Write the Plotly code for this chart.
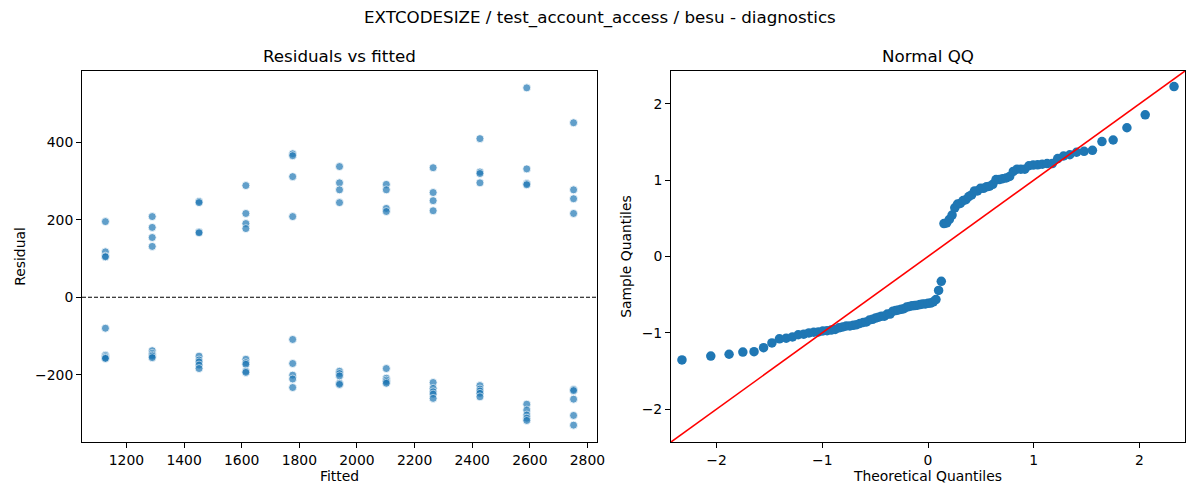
import statistics
import numpy as np
import plotly.graph_objects as go
from plotly.subplots import make_subplots

# fitted value of each group (x columns of the left panel)
FITTED_LEVELS = [1127, 1289.5, 1452, 1614.5, 1777, 1939.5, 2102, 2264.5, 2427, 2589.5, 2752]

# residuals, one list per fitted level
RESIDUALS_BY_LEVEL = [
    [195, 117, 106, 104, -80, -150, -154, -157, -158],
    [208, 180, 154, 131, -138, -145, -149, -152, -156],
    [247, 244, 168, 166, -152, -162, -167, -175, -184],
    [288, 216, 190, 177, -160, -169, -173, -191, -194],
    [370, 365, 311, 208, -109, -171, -201, -211, -233],
    [337, 295, 277, 244, -191, -197, -203, -222, -225],
    [291, 277, 229, 221, -184, -209, -214, -218, -222],
    [334, 270, 249, 223, -220, -235, -244, -250, -261],
    [409, 323, 319, 295, -228, -237, -242, -248, -257],
    [540, 331, 293, 290, -276, -291, -304, -312, -318],
    [450, 277, 254, 216, -238, -241, -263, -305, -330],
]

TITLE = "EXTCODESIZE / test_account_access / besu - diagnostics"
LEFT_TITLE = "Residuals vs fitted"
RIGHT_TITLE = "Normal QQ"
QQ_LIMITS = [-2.43, 2.43]

fitted = []
resid = []
for level, vals in zip(FITTED_LEVELS, RESIDUALS_BY_LEVEL):
    fitted += [level] * len(vals)
    resid += vals
resid = np.array(resid, dtype=float)

# normal QQ: standardised sorted residuals vs normal plotting positions
n = len(resid)
sample_q = np.sort((resid - resid.mean()) / resid.std())
nd = statistics.NormalDist()
theo_q = [nd.inv_cdf(i / (n + 1)) for i in range(1, n + 1)]

FONT = "DejaVu Sans"
BLUE = "#1f77b4"

# the page body has an 8px margin, so the figure is 8px smaller than the window
W, H, OFF = 1192, 492, 8


def px_x(p):
    return (p - OFF) / W


def px_y(p):
    return 1 - (p - OFF) / H


fig = make_subplots(rows=1, cols=2)

fig.add_trace(go.Scatter(
    x=fitted, y=resid, mode="markers",
    marker=dict(color=BLUE, size=8, opacity=0.7, line=dict(color="white", width=0.8)),
    showlegend=False), row=1, col=1)
fig.add_hline(y=0, line=dict(color="black", width=1.1, dash="4px,2px"), row=1, col=1)

fig.add_trace(go.Scatter(
    x=theo_q, y=sample_q, mode="markers",
    marker=dict(color=BLUE, size=9.5, line=dict(width=0)),
    showlegend=False), row=1, col=2)
fig.add_trace(go.Scatter(
    x=QQ_LIMITS, y=QQ_LIMITS, mode="lines",
    line=dict(color="red", width=1.6), showlegend=False), row=1, col=2)

axis_style = dict(showline=True, mirror=True, linecolor="black", linewidth=1,
                  ticks="outside", ticklen=5, tickcolor="black", tickwidth=1,
                  showgrid=False, zeroline=False, automargin=False,
                  tickfont=dict(family=FONT, size=13.9, color="black"))
label_font = dict(family=FONT, size=13.9, color="black")

fig.update_xaxes(axis_style)
fig.update_yaxes(axis_style)

y_dom = [px_y(442), px_y(71)]
left_dom = [px_x(82), px_x(597)]
right_dom = [px_x(671), px_x(1185)]

fig.update_xaxes(domain=left_dom, range=[1045.75, 2833.25],
                 tickvals=list(range(1200, 2801, 200)),
                 title=dict(text="Fitted", font=label_font, standoff=4),
                 row=1, col=1)
fig.update_yaxes(domain=y_dom, range=[-373.5, 583.5],
                 tickvals=[-200, 0, 200, 400],
                 title=dict(text="Residual", font=label_font, standoff=6),
                 row=1, col=1)
fig.update_xaxes(domain=right_dom, range=QQ_LIMITS,
                 tickvals=[-2, -1, 0, 1, 2],
                 title=dict(text="Theoretical Quantiles", font=label_font, standoff=4),
                 row=1, col=2)
fig.update_yaxes(domain=y_dom, range=QQ_LIMITS,
                 tickvals=[-2, -1, 0, 1, 2],
                 title=dict(text="Sample Quantiles", font=label_font, standoff=6),
                 row=1, col=2)

title_font = dict(family=FONT, size=16.7, color="black")
fig.update_layout(
    width=W, height=H,
    margin=dict(l=0, r=0, t=0, b=0),
    paper_bgcolor="white", plot_bgcolor="white",
    font=dict(family=FONT, color="black"),
    annotations=[
        dict(text=TITLE, x=px_x(600), y=px_y(18), xref="paper", yref="paper",
             showarrow=False, xanchor="center", yanchor="middle", font=title_font),
        dict(text=LEFT_TITLE, x=sum(left_dom) / 2, y=px_y(56), xref="paper", yref="paper",
             showarrow=False, xanchor="center", yanchor="middle", font=title_font),
        dict(text=RIGHT_TITLE, x=sum(right_dom) / 2, y=px_y(56), xref="paper", yref="paper",
             showarrow=False, xanchor="center", yanchor="middle", font=title_font),
    ],
)

fig.write_html("out.html")
